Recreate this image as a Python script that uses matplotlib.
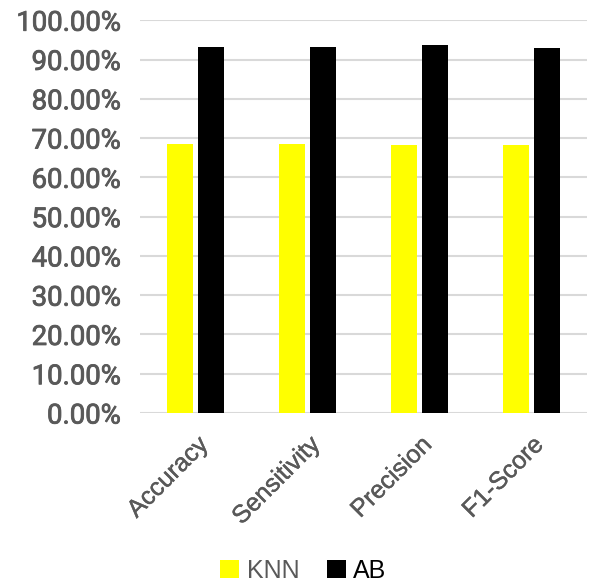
import matplotlib
matplotlib.use("Agg")
import matplotlib.pyplot as plt
import numpy as np
from matplotlib.ticker import FuncFormatter, MultipleLocator
from matplotlib.patches import Patch
import matplotlib.patheffects as pe

categories = ["Accuracy", "Sensitivity", "Precision", "F1-Score"]
knn = [68.6, 68.6, 68.2, 68.2]
ab = [93.3, 93.3, 93.6, 93.0]
series_names = ["KNN", "AB"]
colors = ["#FFFF00", "#000000"]

plt.rcParams['font.family'] = ['Roboto', 'DejaVu Sans']

fig = plt.figure(figsize=(5.89, 5.88), dpi=100)
ax = fig.add_axes([0.2377, 0.2976, 0.759, 0.668])

x = np.arange(len(categories))
w = 0.233
off = 0.139
ax.bar(x - off, knn, width=w, color=colors[0], zorder=3)
ax.bar(x + off, ab, width=w, color=colors[1], zorder=3)

ax.set_xlim(-0.5, len(categories) - 0.5)
ax.set_ylim(0, 100)
ax.yaxis.set_major_locator(MultipleLocator(10))
ax.yaxis.set_major_formatter(FuncFormatter(lambda v, p: f"{v:.2f}%"))
ax.grid(axis='y', color='#d9d9d9', linewidth=1.5, zorder=0)
for s in ax.spines.values():
    s.set_visible(False)
ax.tick_params(axis='both', length=0)
ax.tick_params(axis='y', labelsize=19.8, labelcolor='#595959', pad=14)
for lab in ax.get_yticklabels():
    lab.set_path_effects([pe.withStroke(linewidth=0.6, foreground='#595959')])
ax.set_xticks(x)
ax.set_xticklabels(categories, rotation=45, ha='right', rotation_mode='anchor',
                   fontsize=18, color='#595959', family=['Liberation Sans', 'DejaVu Sans'])
for lab in ax.get_xticklabels():
    lab.set_path_effects([pe.withStroke(linewidth=0.3, foreground='#595959')])
ax.tick_params(axis='x', pad=14)

handles = [Patch(facecolor=c, edgecolor='none') for c in colors]
leg = fig.legend(handles, series_names, loc='center', bbox_to_anchor=(0.515, 0.029),
                 ncol=2, frameon=False, handlelength=0.75, handleheight=0.75,
                 handletextpad=0.3, columnspacing=1.1,
                 prop={'family': ['Liberation Sans', 'DejaVu Sans'], 'size': 18})
leg.get_texts()[0].set_color('#595959')
leg.get_texts()[1].set_color('#000000')

fig.savefig("out.png", dpi=100)
